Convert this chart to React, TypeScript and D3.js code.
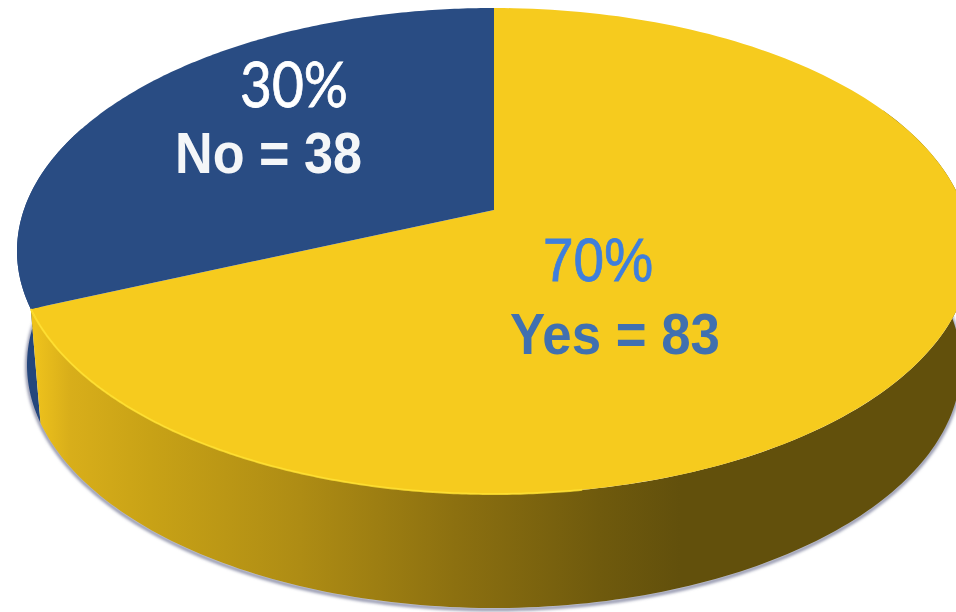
import React from "react";
import * as d3 from "d3";

// Survey answers and the rounded shares printed on the slices
const categories = ["Yes", "No"];
const counts = [83, 38];
const shares = [70, 30];
const topColors = ["#f6cb1e", "#294c83"];

const W = 956;
const H = 612;

type Rim = { cx: number; up: number; apex: number; down: number; rx: number };

// Discs are drawn in perspective: the far edge, hub and near edge are given
// as screen heights and every rim point follows from a projective mapping.
const topRim: Rim = { cx: 494, up: 8, apex: 210, down: 494, rx: 477 };
const baseRim: Rim = { cx: 494, up: 122, apex: 324, down: 608, rx: 467 };

function projector(r: Rim) {
  const k = (2 * r.apex - r.up - r.down) / (r.down - r.up);
  const a = r.apex - r.up + r.up * k;
  const A = r.rx * Math.sqrt(1 - k * k);
  return (theta: number, radius = 1): [number, number] => {
    const u = Math.sin(theta) * radius;
    const v = -Math.cos(theta) * radius;
    const w = 1 + k * v;
    return [r.cx + (A * u) / w, (a * v + r.apex) / w];
  };
}

const pTop = projector(topRim);
const pBase = projector(baseRim);

const pieLayout = d3.pie<number>().sort(null).startAngle(0).endAngle(2 * Math.PI);
const arcs = pieLayout(counts);
const toPath = d3.line();

const sweep = (a: number, b: number) => d3.range(0, 181).map((i) => a + ((b - a) * i) / 180);

const sliceTop = (a: number, b: number) =>
  toPath([pTop(0, 0), ...sweep(a, b).map((t) => pTop(t))])! + "Z";

const wall = (a: number, b: number) =>
  toPath([...sweep(a, b).map((t) => pTop(t)), ...sweep(b, a).map((t) => pBase(t))])! + "Z";

const yesEnd = arcs[0].endAngle;
const wallStart = Math.PI * 0.35;
const wallEnd = Math.PI * 1.62;

const baseOutline = toPath(sweep(wallStart, wallEnd).map((t) => pBase(t)))!;
const nearRim = toPath(sweep(Math.PI * 0.95, yesEnd).map((t) => pTop(t)))!;

// Lighting across the side wall, brightest at the cut and dark to the right
const wallStops: [number, string][] = [
  [35, "#eec21c"],
  [70, "#d8ae1a"],
  [150, "#c8a216"],
  [300, "#ae8c14"],
  [456, "#8c7010"],
  [600, "#6f5a0d"],
  [680, "#62500c"],
  [956, "#62500c"],
];

export default function App() {
  return (
    <svg
      width={W}
      height={H}
      viewBox={`0 0 ${W} ${H}`}
      style={{ position: "absolute", left: 0, top: 0, background: "#fff" }}
    >
      <defs>
        <linearGradient id="wallShade" gradientUnits="userSpaceOnUse" x1={0} y1={0} x2={W} y2={0}>
          {wallStops.map(([x, c]) => (
            <stop key={x} offset={x / W} stopColor={c} />
          ))}
        </linearGradient>
        <filter id="soft" x="-5%" y="-5%" width="110%" height="110%">
          <feGaussianBlur stdDeviation="1.6" />
        </filter>
      </defs>

      {/* soft contact shadow under the disc */}
      <path
        d={baseOutline}
        fill="none"
        stroke="#8f92aa"
        strokeWidth={3.5}
        filter="url(#soft)"
        transform="translate(0,1.5)"
      />

      {/* side walls */}
      <path d={wall(yesEnd, wallEnd)} fill="#24467c" />
      <path d={wall(wallStart, yesEnd)} fill="url(#wallShade)" />

      {/* top faces */}
      {arcs.map((d, i) => (
        <path key={categories[i]} d={sliceTop(d.startAngle, d.endAngle)} fill={topColors[i]} />
      ))}
      <path d={nearRim} fill="none" stroke="#ffe030" strokeWidth={2} opacity={0.85} />

      {/* slice labels */}
      <g textAnchor="start">
        <text x={240} y={107} fontFamily="Lato" fontSize={62} fill="#fff" stroke="#fff" strokeWidth={0.8} textLength={108} lengthAdjust="spacingAndGlyphs">
          {`${shares[1]}%`}
        </text>
        <text x={175} y={173} fontFamily="Liberation Sans" fontWeight={700} fontSize={58} fill="#f4f6f8" textLength={187} lengthAdjust="spacingAndGlyphs">
          {`${categories[1]} = ${counts[1]}`}
        </text>
        <text x={543} y={281} fontFamily="Liberation Sans" fontSize={62} fill="#3f7fdc" stroke="#3f7fdc" strokeWidth={0.8} textLength={110} lengthAdjust="spacingAndGlyphs">
          {`${shares[0]}%`}
        </text>
        <text x={510} y={354} fontFamily="Liberation Sans" fontWeight={700} fontSize={58} fill="#4070b0" textLength={210} lengthAdjust="spacingAndGlyphs">
          {`${categories[0]} = ${counts[0]}`}
        </text>
      </g>
    </svg>
  );
}
